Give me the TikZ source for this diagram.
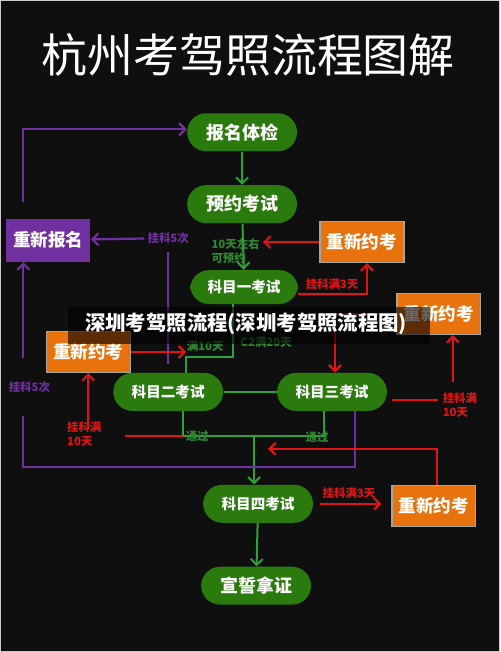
\documentclass[tikz,border=0pt]{standalone}
\usepackage{fontspec}
\setmainfont{Noto Sans CJK SC}
\usetikzlibrary{arrows.meta}
\definecolor{bg}{HTML}{0F0F0F}
\definecolor{kgreen}{HTML}{2B7A0E}
\definecolor{lgreen}{HTML}{2FA03A}
\definecolor{tgreen}{HTML}{2E8A30}
\definecolor{kpurple}{HTML}{7030A0}
\definecolor{korange}{HTML}{E8720C}
\definecolor{kred}{HTML}{E01414}

\begin{document}
\begin{tikzpicture}[x=0.5pt,y=-0.5pt,
    pill/.style={rounded corners=9.5pt,fill=kgreen,text=white,minimum width=55pt,minimum height=19pt,font=\bfseries\fontsize{7.3}{8}\selectfont},
    big/.style={font=\bfseries\fontsize{9}{10}\selectfont},
    box/.style={fill=korange,draw=gray!70,line width=0.6pt,text=white,minimum width=42pt,minimum height=20.5pt,font=\bfseries\fontsize{8.8}{10}\selectfont},
    lab/.style={font=\bfseries\fontsize{5.7}{6.8}\selectfont,inner sep=1.5pt,align=left},
    gline/.style={lgreen,line width=1pt},
    garr/.style={gline,-{Straight Barb[length=3pt,width=6pt]}},
    pline/.style={kpurple,line width=1.1pt},
    parr/.style={pline,-{Straight Barb[length=3pt,width=6pt]}},
    rline/.style={kred,line width=1.1pt},
    rarr/.style={rline,-{Straight Barb[length=3pt,width=6pt]}}]
    \draw[fill=bg,draw=gray!40] (0,0) rectangle (500,652);
    \node[text=white,font=\fontsize{23}{26}\selectfont] (title) at (248,55) {杭州考驾照流程图解};

    \node[pill,big] (bm) at (242,132) {报名体检};
    \node[pill,big] (yy) at (242,204) {预约考试};
    \node[pill,minimum width=54pt,minimum height=17pt] (k1) at (244,287) {科目一考试};
    \node[pill] (k2) at (168,392) {科目二考试};
    \node[pill] (k3) at (332,392) {科目三考试};
    \node[pill] (k4) at (258,504) {科目四考试};
    \node[pill,big] (nz) at (256,586) {宣誓拿证};
    \node[box,fill=kpurple,draw=none,minimum height=21.5pt] (cb) at (48,240) {重新报名};
    \node[box] (ya) at (362,242) {重新约考};
    \node[box] (yb) at (88,352) {重新约考};
    \node[box] (yc) at (439,314) {重新约考};
    \node[box] (yd) at (434,506) {重新约考};

    \draw[garr] (bm) -- (yy);
    \node[lab,text=tgreen,anchor=west] (t10) at (208,251) {10天左右\\可预约};
    \draw[garr] (yy) -- (k1);
    \coordinate (c1) at (233,357);
    \coordinate (c2) at (186,357);
    \draw[gline] (k1.south -| c1) -- (c1) -- (c2) -- (k2.north -| c2);
    \node[lab,text=tgreen] (m10) at (205,346) {满10天};
    \node[lab,text=tgreen] (c20) at (266,342) {C2满20天};
    \draw[gline] (k2) -- (k3);
    \coordinate (c3) at (254,436);
    \coordinate (c4) at (183,436);
    \coordinate (c5) at (324,436);
    \draw[gline] (k2.south -| c4) -- (c4) -- (c5) -- (k3.south -| c5);
    \draw[garr] (c3) -- (k4.north -| c3);
    \node[lab,text=tgreen] (tg1) at (197,436) {通过};
    \node[lab,text=tgreen] (tg2) at (317,437) {通过};
    \draw[garr] (k4) -- (nz);

    \coordinate (p1) at (23,202);
    \coordinate (p2) at (23,129);
    \draw[parr] (p1) -- (p2) -- (p2 -| bm.west);
    \node[lab,text=kpurple] (w5a) at (168,238) {挂科5次};
    \draw[parr] (w5a) -- (cb);
    \draw[pline] ([yshift=4.5pt]k2.north) -- ([yshift=-2.5pt]w5a.south);
    \coordinate (p3) at (355,467);
    \coordinate (p4) at (23,467);
    \node[lab,text=kpurple] (w5b) at (29,387) {挂科5次};
    \draw[pline] (k3.south -| p3) -- (p3) -- (p4) -- ([yshift=-10pt]p4 |- w5b.south);
    \draw[parr] ([yshift=10pt]p4 |- w5b.north) -- (cb.south -| p4);

    \coordinate (r1) at (367,294);
    \draw[rarr] (r1 -| k1.east) -- (r1) -- (ya.south -| r1);
    \node[lab,text=kred] (f3a) at (332,284) {挂科满3天};
    \draw[rarr] (ya.west) -- (ya.west -| t10.east);
    \draw[rarr] (yb.east) -- (yb.east -| c2);
    \node[lab,text=kred] (f10a) at (84,434) {挂科满\\10天};
    \draw[rline] (c4) -- ([xshift=10pt]c4 -| f10a.east);
    \draw[rarr] ([yshift=-5pt]f10a.north -| yb) -- (yb.south);
    \coordinate (r2) at (438,400);
    \coordinate (r3) at (453,382);
    \draw[rline] ([xshift=2.5pt]r2 -| k3.east) -- (r2);
    \node[lab,text=kred] (f10b) at (460,405) {挂科满\\10天};
    \draw[rarr] (r3) -- (yc.south -| r3);
    \coordinate (r4) at (335,314);
    \draw[rarr] (yc.west) -- (r4) -- (k3.north -| r4);
    \node[lab,text=kred] (f3b) at (349,493) {挂科满3天};
    \draw[rarr,shorten <=3.5pt,shorten >=5pt] (k4.east) -- (k4.east -| yd.west);
    \coordinate (r5) at (437,449);
    \coordinate (r6) at (268,449);
    \draw[rarr] (yd.north -| r5) -- (r5) -- (r6);

    \fill[black,opacity=0.6] (68,307) rectangle (430,344);
    \node[text=white,font=\bfseries\fontsize{10.2}{12}\selectfont] (wm) at (246,324) {深圳考驾照流程(深圳考驾照流程图)};
\end{tikzpicture}
\end{document}
